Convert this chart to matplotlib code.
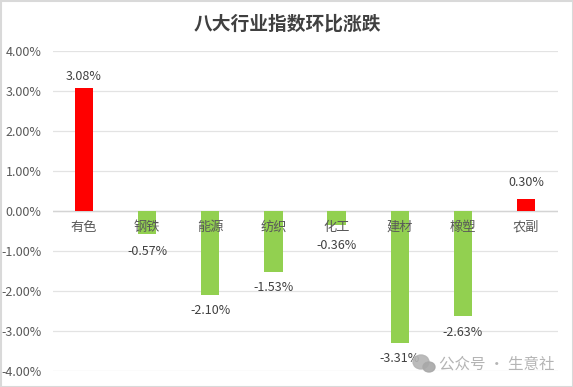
import matplotlib
matplotlib.use('Agg')
import matplotlib.pyplot as plt
from matplotlib.patches import Ellipse, Rectangle

plt.rcParams['font.family'] = ['Noto Sans CJK SC', 'DejaVu Sans']

# données
categories = ['有色', '钢铁', '能源', '纺织', '化工', '建材', '橡塑', '农副']
valeurs = [3.08, -0.57, -2.10, -1.53, -0.36, -3.31, -2.63, 0.30]
graduations = [4, 3, 2, 1, 0, -1, -2, -3, -4]
# écart centre de l'étiquette / bout de la barre, en points de %
ecarts = [0.27, 0.45, 0.40, 0.38, 0.50, 0.38, 0.42, 0.40]

W, H = 573, 387
fig = plt.figure(figsize=(W / 100, H / 100), dpi=100, facecolor='white')
ax = fig.add_axes([52.5 / W, 1 - 371 / H, (557.5 - 52.5) / W, 320 / H])

couleurs = ['#ff0000' if v > 0 else '#92d050' for v in valeurs]
x = range(len(categories))
ax.bar(x, valeurs, width=0.29, color=couleurs, zorder=2)

ax.set_xlim(-0.5, 7.5)
ax.set_ylim(-4, 4)
ax.set_yticks(graduations)
ax.set_yticklabels([f'{g:.2f}%' for g in graduations], fontsize=9, color='#595959')
ax.tick_params(axis='y', length=0, pad=8)
ax.tick_params(axis='x', length=0, labelbottom=False)
ax.grid(axis='y', color='#e3e3e3', linewidth=0.9, zorder=0)
ax.set_axisbelow(True)
for s in ax.spines.values():
    s.set_visible(False)
ax.axhline(0, color='#d4d4d4', linewidth=1, zorder=1)

# noms de catégories sous l'axe zéro (par-dessus les barres)
for i, nom in enumerate(categories):
    ax.text(i, -0.40, nom, ha='center', va='center', fontsize=9.5, color='#595959', zorder=4)

# étiquettes de valeurs
for i, v in enumerate(valeurs):
    y = v + ecarts[i] if v > 0 else v - ecarts[i]
    ax.text(i, y, f'{v:.2f}%', ha='center', va='center',
            fontsize=9, color='#404040', zorder=4)

fig.text(287 / W, 1 - 24 / H, '八大行业指数环比涨跌', ha='center', va='center',
         fontsize=13.5, fontweight='bold', color='#404040')

# filigrane
fig.text(439 / W, 1 - 364 / H, '公众号 · 生意社', ha='left', va='center',
         fontsize=11.2, color='#b4b4b4', zorder=6)
fond = fig.add_axes([0, 0, 1, 1], facecolor='none', zorder=5)
fond.set_xlim(0, W)
fond.set_ylim(H, 0)
fond.axis('off')
fond.add_patch(Ellipse((421, 362), 16, 14, color='#b4b4b4', alpha=0.9))
fond.add_patch(Ellipse((429, 367), 12, 10, color='#a8a8a8', alpha=0.9))

# cadre du graphique
fond.add_patch(Rectangle((0.5, 0.5), W - 1, H - 1, fill=False, edgecolor='#d9d9d9', linewidth=1.5))

fig.savefig('out.png', dpi=100)
